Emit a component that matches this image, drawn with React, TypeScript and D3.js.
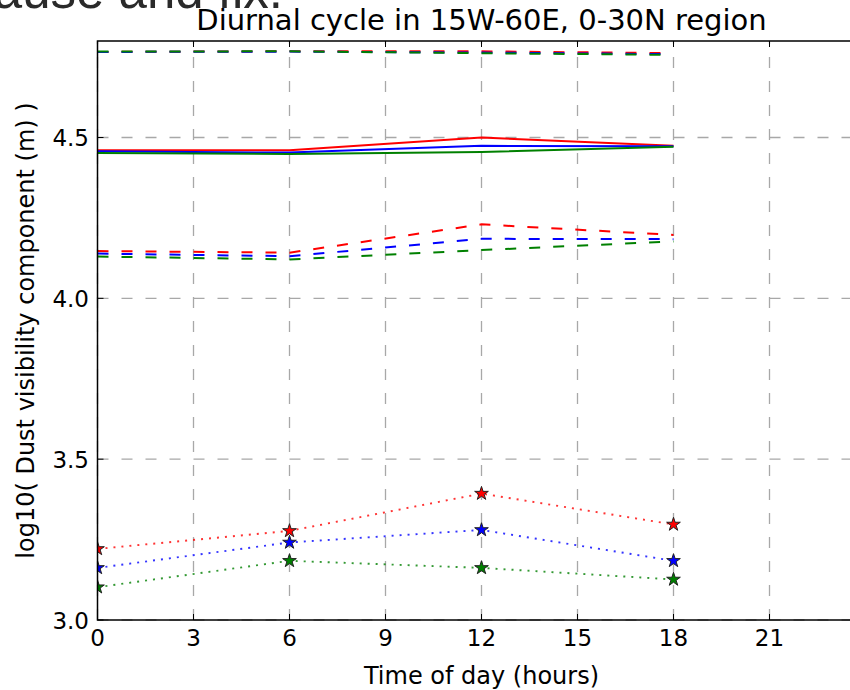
import React from "react";
import * as d3 from "d3";

const hours = [0, 6, 12, 18];
const xTicks = [0, 3, 6, 9, 12, 15, 18, 21];
const yTicks = [3.0, 3.5, 4.0, 4.5];

// upper dashed group
const redUpper = [4.766, 4.768, 4.768, 4.762];
const blueUpper = [4.766, 4.767, 4.764, 4.759];
const greenUpper = [4.767, 4.768, 4.762, 4.757];
// solid group
const redSolid = [4.46, 4.46, 4.5, 4.474];
const blueSolid = [4.457, 4.453, 4.474, 4.473];
const greenSolid = [4.452, 4.449, 4.455, 4.471];
// middle dashed group
const redMid = [4.147, 4.142, 4.23, 4.197];
const blueMid = [4.139, 4.131, 4.185, 4.184];
const greenMid = [4.13, 4.121, 4.15, 4.177];
// dotted group with star markers
const redDot = [3.221, 3.277, 3.393, 3.297];
const blueDot = [3.162, 3.241, 3.28, 3.184];
const greenDot = [3.102, 3.184, 3.162, 3.126];

const RED = "#ff0000";
const BLUE = "#0000ff";
const GREEN = "#008000";

export default function App() {
  const left = 97.5;
  const right = 865.5;
  const top = 41;
  const bottom = 620;
  const x = d3.scaleLinear().domain([0, 24]).range([left, right]);
  const y = d3.scaleLinear().domain([3.0, 4.8]).range([bottom, top]);
  const line = d3
    .line<number>()
    .x((_, i) => x(hours[i]))
    .y((d) => y(d));
  const star = d3.symbol().type(d3.symbolStar).size(58)();

  const font = "DejaVu Sans, sans-serif";

  const series: { vals: number[]; color: string; kind: string }[] = [
    { vals: redUpper, color: RED, kind: "dash" },
    { vals: redSolid, color: RED, kind: "solid" },
    { vals: redMid, color: RED, kind: "dash" },
    { vals: redDot, color: RED, kind: "dot" },
    { vals: blueUpper, color: BLUE, kind: "dash" },
    { vals: blueSolid, color: BLUE, kind: "solid" },
    { vals: blueMid, color: BLUE, kind: "dash" },
    { vals: blueDot, color: BLUE, kind: "dot" },
    { vals: greenUpper, color: GREEN, kind: "dash" },
    { vals: greenSolid, color: GREEN, kind: "solid" },
    { vals: greenMid, color: GREEN, kind: "dash" },
    { vals: greenDot, color: GREEN, kind: "dot" },
  ];

  return (
    <svg
      width={850}
      height={690}
      style={{ position: "absolute", left: 0, top: 0, background: "#fff" }}
    >
      <defs>
        <clipPath id="plotclip">
          <rect x={left} y={top} width={right - left} height={bottom - top} />
        </clipPath>
      </defs>
      <rect x={0} y={0} width={850} height={690} fill="#fff" />
      <text
        x={283}
        y={8}
        textAnchor="end"
        fontFamily="Liberation Sans, Arial, sans-serif"
        fontSize={51}
        fill="#2a2a2a"
      >
        pause and fix.
      </text>

      {/* grid */}
      <g stroke="#a8a8a8" strokeWidth={1.3} strokeDasharray="11,13">
        {xTicks.map((t) => (
          <line key={"gx" + t} x1={x(t)} x2={x(t)} y1={bottom} y2={top} />
        ))}
        {yTicks.map((t) => (
          <line key={"gy" + t} x1={left} x2={right} y1={y(t)} y2={y(t)} />
        ))}
      </g>

      {/* series */}
      <g clipPath="url(#plotclip)">
        {series.map((s, i) => (
          <path
            key={"s" + i}
            d={line(s.vals) || ""}
            fill="none"
            stroke={s.color}
            strokeWidth={s.kind === "dot" ? 1.9 : 2}
            strokeOpacity={s.kind === "dot" ? 0.8 : 1}
            strokeDasharray={
              s.kind === "dash" ? "11,13" : s.kind === "dot" ? "2,6" : undefined
            }
          />
        ))}
        {series
          .filter((s) => s.kind === "dot")
          .map((s, i) =>
            s.vals.map((v, j) => (
              <path
                key={"m" + i + "-" + j}
                d={star || ""}
                transform={`translate(${x(hours[j])},${y(v)})`}
                fill={s.color}
                stroke="#222"
                strokeWidth={1}
              />
            ))
          )}
      </g>

      {/* frame */}
      <rect
        x={left}
        y={top}
        width={right - left}
        height={bottom - top}
        fill="none"
        stroke="#000"
        strokeWidth={1.5}
      />
      {/* ticks */}
      <g stroke="#000" strokeWidth={1}>
        {xTicks.map((t) => (
          <g key={"tx" + t}>
            <line x1={x(t)} x2={x(t)} y1={bottom} y2={bottom - 6} />
            <line x1={x(t)} x2={x(t)} y1={top} y2={top + 6} />
          </g>
        ))}
        {yTicks.map((t) => (
          <line key={"ty" + t} x1={left} x2={left + 6} y1={y(t)} y2={y(t)} />
        ))}
      </g>

      {/* tick labels */}
      <g fontFamily={font} fontSize={23} fill="#000">
        {xTicks.map((t) => (
          <text key={"lx" + t} x={x(t)} y={646} textAnchor="middle">
            {String(t)}
          </text>
        ))}
        {yTicks.map((t) => (
          <text key={"ly" + t} x={89} y={y(t) + 8.5} textAnchor="end">
            {t.toFixed(1)}
          </text>
        ))}
      </g>

      <text
        x={(left + right) / 2}
        y={30}
        textAnchor="middle"
        fontFamily={font}
        fontSize={29}
        fill="#000"
      >
        Diurnal cycle in 15W-60E, 0-30N region
      </text>
      <text
        x={(left + right) / 2}
        y={684}
        textAnchor="middle"
        fontFamily={font}
        fontSize={24}
        fill="#000"
      >
        Time of day (hours)
      </text>
      <text
        transform={`translate(34,${(top + bottom) / 2}) rotate(-90)`}
        textAnchor="middle"
        fontFamily={font}
        fontSize={24}
        fill="#000"
      >
        log10( Dust visibility component (m) )
      </text>
    </svg>
  );
}
